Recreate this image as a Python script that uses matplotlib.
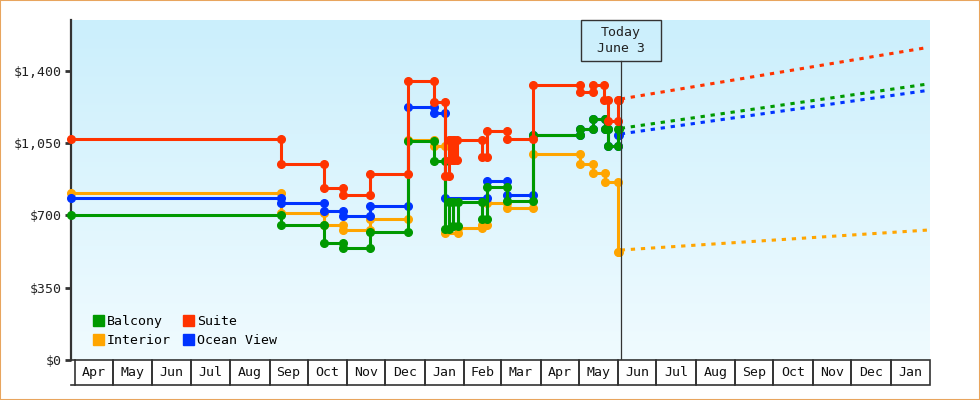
import numpy as np
import pandas as pd
import matplotlib
matplotlib.use('Agg')
import matplotlib.pyplot as plt
import matplotlib.dates as mdates
import matplotlib.transforms as mtransforms
from matplotlib.patches import Rectangle, Patch
from matplotlib.colors import LinearSegmentedColormap

# price history: date of each change and the new price
balcony_dates = ['2023-03-29', '2023-09-10', '2023-10-14', '2023-10-29', '2023-11-19',
                 '2023-12-19', '2024-01-08', '2024-01-17', '2024-01-20', '2024-01-23',
                 '2024-01-27', '2024-02-15', '2024-02-19', '2024-03-06', '2024-03-26',
                 '2024-05-02', '2024-05-12', '2024-05-22', '2024-05-24', '2024-06-01']
balcony_prices = [702, 652, 565, 542, 618,
                  1060, 963, 632, 766, 650,
                  766, 680, 836, 771, 1087,
                  1117, 1165, 1117, 1036, 1117]

interior_dates = ['2023-03-29', '2023-09-10', '2023-10-14', '2023-10-29', '2023-11-19',
                  '2023-12-19', '2024-01-08', '2024-01-17', '2024-01-27', '2024-02-15',
                  '2024-02-19', '2024-03-06', '2024-03-26', '2024-05-02', '2024-05-12',
                  '2024-05-22', '2024-06-01']
interior_prices = [808, 710, 652, 629, 682,
                   1065, 1036, 613, 637, 653,
                   758, 734, 995, 947, 903,
                   863, 524]

suite_dates = ['2023-03-29', '2023-09-10', '2023-10-14', '2023-10-29', '2023-11-19',
               '2023-12-19', '2024-01-08', '2024-01-17', '2024-01-20', '2024-01-21',
               '2024-01-23', '2024-01-24', '2024-01-26', '2024-02-15', '2024-02-19',
               '2024-03-06', '2024-03-26', '2024-05-02', '2024-05-12', '2024-05-21',
               '2024-05-24', '2024-06-01']
suite_prices = [1070, 949, 834, 797, 899,
                1350, 1247, 890, 1065, 968,
                1065, 968, 1065, 984, 1110,
                1068, 1331, 1295, 1331, 1258,
                1154, 1258]

ocean_dates = ['2023-03-29', '2023-09-10', '2023-10-14', '2023-10-29', '2023-11-19',
               '2023-12-19', '2024-01-08', '2024-01-17', '2024-02-19', '2024-03-06',
               '2024-03-26', '2024-05-02', '2024-05-12', '2024-05-22', '2024-05-24',
               '2024-06-01']
ocean_prices = [782, 758, 722, 695, 745,
                1226, 1197, 786, 864, 800,
                1087, 1117, 1165, 1117, 1036,
                1090]

history_end = '2024-06-02'
today = '2024-06-03'
forecast_end = '2025-01-31'
balcony_forecast = [1121, 1336]
interior_forecast = [532, 629]
suite_forecast = [1263, 1513]
ocean_forecast = [1094, 1305]

month_labels = ['Apr', 'May', 'Jun', 'Jul', 'Aug', 'Sep', 'Oct', 'Nov', 'Dec', 'Jan', 'Feb',
                'Mar', 'Apr', 'May', 'Jun', 'Jul', 'Aug', 'Sep', 'Oct', 'Nov', 'Dec', 'Jan']
y_ticks = [0, 350, 700, 1050, 1400]

GREEN = '#009900'
ORANGE = '#ffa500'
RED = '#ff3300'
BLUE = '#0033ff'
DARK = '#333333'
MONO = 'DejaVu Sans Mono'
FS = 9.5


def to_num(d):
    return mdates.date2num(pd.to_datetime(d).to_pydatetime())


def step_points(dates, prices, end):
    d = [to_num(x) for x in dates]
    xs, ys = [d[0]], [prices[0]]
    for i in range(1, len(d)):
        xs += [d[i], d[i]]
        ys += [prices[i - 1], prices[i]]
    xs.append(to_num(end))
    ys.append(prices[-1])
    return xs, ys


fig = plt.figure(figsize=(9.8, 4.0), dpi=100)
ax = fig.add_axes([71 / 980, 40 / 400, 859 / 980, 340 / 400])

x_left = to_num('2023-03-29')
x_right = to_num('2025-02-01')

# background gradient
bg = LinearSegmentedColormap.from_list('bg', ['#cbeffc', '#f0fbff'])
ax.imshow(np.linspace(0, 1, 256).reshape(-1, 1), cmap=bg, aspect='auto',
          extent=[0, 1, 0, 1], transform=ax.transAxes, zorder=0)

series = [
    (interior_dates, interior_prices, interior_forecast, ORANGE),
    (ocean_dates, ocean_prices, ocean_forecast, BLUE),
    (balcony_dates, balcony_prices, balcony_forecast, GREEN),
    (suite_dates, suite_prices, suite_forecast, RED),
]
t_now = to_num(today)
t_end = to_num(forecast_end)
for z, (dates, prices, fc, col) in enumerate(series):
    xs, ys = step_points(dates, prices, history_end)
    ax.plot(xs, ys, color=col, lw=2.2, marker='o', ms=5.5, zorder=3 + z,
            solid_joinstyle='miter', clip_on=False)
    ax.plot([t_now, t_end], fc, color=col, lw=2.2, ls=(0, (1.4, 1.9)),
            dash_capstyle='butt', zorder=3 + z)

ax.set_xlim(x_left, x_right)
ax.set_ylim(0, 1645)

ax.set_yticks(y_ticks)
ax.set_yticklabels(['${:,}'.format(v) for v in y_ticks], family=MONO, fontsize=FS,
                   color='#222222')
ax.tick_params(axis='y', length=4, width=2, color=DARK, pad=3)
ax.set_xticks([])
for s in ['top', 'right', 'bottom']:
    ax.spines[s].set_visible(False)
ax.spines['left'].set_color(DARK)
ax.spines['left'].set_linewidth(1.6)

blend = mtransforms.blended_transform_factory(ax.transData, ax.transAxes)

# month boxes below the plot
h = 25 / 340
month_starts = pd.date_range('2023-04-01', periods=len(month_labels) + 1, freq='MS')
for i, lab in enumerate(month_labels):
    x0 = to_num(month_starts[i])
    x1 = to_num(month_starts[i + 1])
    ax.add_patch(Rectangle((x0, -h), x1 - x0, h, fill=False, ec=DARK, lw=1.2,
                           transform=blend, clip_on=False))
    ax.text((x0 + x1) / 2, -h / 2, lab, transform=blend, ha='center', va='center',
            family=MONO, fontsize=FS, color='#111111', clip_on=False)
first = to_num(month_starts[0])
for yy in [0, -h]:
    ax.plot([x_left, first], [yy, yy], color=DARK, lw=1.2, transform=blend, clip_on=False)

# today marker
box_w = 62.8
box_h = 0.12
ax.add_patch(Rectangle((t_now - box_w / 2, 1 - box_h), box_w, box_h, fill=False,
                       ec=DARK, lw=1, transform=blend, clip_on=False, zorder=10))
ax.plot([t_now, t_now], [0, 1 - box_h], color=DARK, lw=0.9, transform=blend, zorder=10)
ax.text(t_now, 1 - box_h / 2, 'Today\nJune 3', transform=blend, ha='center',
        va='center', family=MONO, fontsize=FS, color='#222222', linespacing=1.25,
        zorder=10)

handles = [Patch(color=GREEN, label='Balcony'), Patch(color=ORANGE, label='Interior'),
           Patch(color=RED, label='Suite'), Patch(color=BLUE, label='Ocean View')]
ax.legend(handles=handles, loc='lower left', bbox_to_anchor=(0.026, 0.038), ncol=2,
          frameon=False, prop={'family': MONO, 'size': FS}, handlelength=0.83,
          handleheight=0.83, handletextpad=0.2, columnspacing=0.95, labelspacing=0.45,
          borderpad=0, borderaxespad=0)

fig.patches.append(Rectangle((0, 0), 1, 1, transform=fig.transFigure, fill=False,
                             ec='#e8a55e', lw=1.5))

fig.savefig('out.png', dpi=100)
